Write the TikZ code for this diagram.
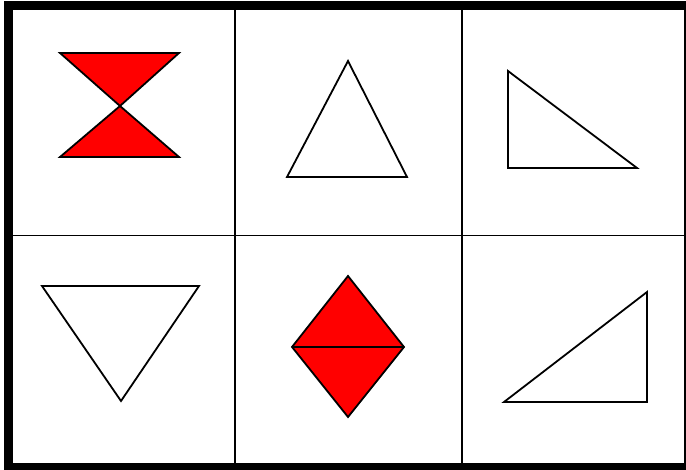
\documentclass[tikz,border=0pt]{standalone}
\begin{document}
\begin{tikzpicture}[x=1pt,y=-1pt,
  figline/.style={draw=black,line width=1.8pt,line join=miter},
  redfig/.style={figline,fill=red},
  gridline/.style={draw=black}]
\useasboundingbox (0,0) rectangle (686,470);
\begin{scope}
\clip (0,0) rectangle (686,470);
% grid lines
\draw[gridline,line width=2pt] (235,10) -- (235,464);
\draw[gridline,line width=2pt] (462,10) -- (462,464);
\draw[gridline,line width=1pt] (13,236) -- (684,236);
% outer frame
\draw[line width=9pt] (8.5,5.5) rectangle (688.5,467.5);
\end{scope}
% cell 1: bowtie
\draw[redfig] (60,53) -- (179,53) -- (120,106) -- cycle;
\draw[redfig] (60,157) -- (179,157) -- (120,106) -- cycle;
% cell 2
\draw[figline] (348,61) -- (407,177) -- (287,177) -- cycle;
% cell 3
\draw[figline] (508,71) -- (637,168) -- (508,168) -- cycle;
% cell 4
\draw[figline] (42,286) -- (199,286) -- (121,401) -- cycle;
% cell 5: diamond
\draw[redfig] (348,276) -- (404,347) -- (348,417) -- (292,347) -- cycle;
\draw[figline] (292,347) -- (404,347);
% cell 6
\draw[figline] (647,292) -- (647,402) -- (504,402) -- cycle;
\end{tikzpicture}
\end{document}
